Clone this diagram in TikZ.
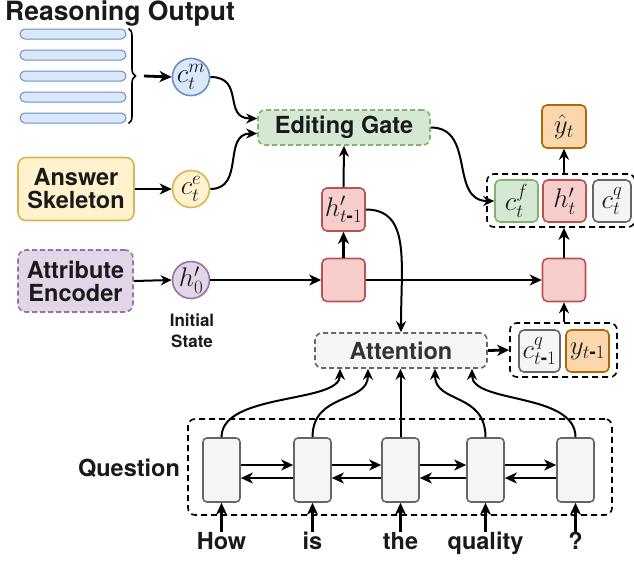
\RequirePackage{fix-cm}
\documentclass[tikz,border=0pt]{standalone}
\usepackage{amsmath}
\usepackage{fontspec}
\newfontfamily\hv{TeX Gyre Heros}
\newcommand{\tminus}{\text{\hv\bfseries -}}
\usetikzlibrary{arrows.meta,calc,decorations.pathreplacing}
\definecolor{bluF}{HTML}{DAE8FC}\definecolor{bluD}{HTML}{6C8EBF}
\definecolor{yelF}{HTML}{FFF2CC}\definecolor{yelD}{HTML}{D6B656}
\definecolor{grnF}{HTML}{D5E8D4}\definecolor{grnD}{HTML}{82B366}
\definecolor{purF}{HTML}{E1D5E7}\definecolor{purD}{HTML}{9673A6}
\definecolor{redF}{HTML}{F8CECC}\definecolor{redD}{HTML}{B85450}
\definecolor{gryF}{HTML}{F5F5F5}\definecolor{gryD}{HTML}{666666}
\definecolor{orgF}{HTML}{FAD7AC}\definecolor{orgD}{HTML}{B46504}
\definecolor{txt}{HTML}{1A1A1A}
\tikzset{
  lbl/.style={font=\hv\bfseries\fontsize{23.5}{25}\selectfont, text=txt, align=center, inner sep=0pt},
  mth/.style={font=\fontsize{27}{29}\selectfont, text=txt},
  bx/.style={rounded corners=5pt, line width=1.6pt, inner sep=0pt, mth},
  circ/.style={circle, line width=1.6pt, minimum size=37pt, inner sep=0pt, mth},
  redbox/.style={bx, draw=redD, fill=redF, minimum width=43pt, minimum height=43pt},
  grpbox/.style={draw=black, dashed, dash pattern=on 6pt off 4pt, line width=1.6pt, rounded corners=7pt, inner sep=0pt},
  cell/.style={draw=gryD, fill=gryF, line width=1.6pt, rounded corners=4pt, minimum width=37pt, minimum height=64pt, inner sep=0pt},
  bar/.style={draw=bluD, fill=bluF, line width=1pt, rounded corners=5pt, minimum width=106pt, minimum height=10pt, inner sep=0pt},
  thk/.style={line width=2.8pt, -{Stealth[length=12pt,width=11pt,inset=3.5pt]}},
  thn/.style={line width=2pt, -{Stealth[length=11pt,width=10pt,inset=3.5pt]}},
}
\begin{document}
\begin{tikzpicture}[x=1pt,y=-1pt]
\useasboundingbox (0,0) rectangle (634,560);
% Reasoning output
\node[lbl, font=\hv\bfseries\fontsize{26.5}{28}\selectfont] (ro) at (120,14) {Reasoning Output};
\foreach \i/\y in {1/34,2/55,3/76,4/97,5/118} {
  \node[bar] (bar\i) at (73,\y) {};
}
\draw[line width=1.6pt, decorate, decoration={brace, amplitude=7pt}] ($(bar1.north east)+(2,0)$) -- ($(bar5.south east)+(2,0)$);
\coordinate (brtip) at (144,76);
\node[circ, draw=bluD, fill=bluF] (cm) at (191,77) {$c_t^m$};
\draw[thk] (brtip) -- (cm.west);
% Answer Skeleton
\node[lbl, draw=yelD, fill=yelF, line width=1.6pt, rounded corners=8pt, minimum width=116pt, minimum height=63pt] (ans) at (76,189) {Answer\\[-2pt]Skeleton};
\node[circ, draw=yelD, fill=yelF] (ce) at (191,189) {$c_t^e$};
\draw[thk] (ans.east) -- (ce.west);
% Attribute encoder
\node[lbl, draw=purD, fill=purF, line width=1.6pt, dashed, dash pattern=on 5pt off 3pt, rounded corners=8pt, minimum width=115pt, minimum height=62pt] (attr) at (75.5,281) {Attribute\\[-2pt]Encoder};
\node[circ, draw=purD, fill=purF] (h0) at (191,280) {$h_0^{\prime}$};
\node[lbl, font=\hv\bfseries\fontsize{17}{21}\selectfont] (init) at (192,331) {Initial\\State};
\draw[thn] (attr.east) -- (h0.west);
% Editing gate
\node[lbl, draw=grnD, fill=grnF, line width=1.6pt, dashed, dash pattern=on 5pt off 3pt, rounded corners=7pt, minimum width=172pt, minimum height=35pt] (eg) at (344,127.5) {Editing Gate};
\draw[thn] (cm.east) .. controls +(35,0) and +(-35,0) .. ($(eg.west)+(0,-9)$);
\draw[thn] (ce.east) .. controls +(35,0) and +(-35,0) .. ($(eg.west)+(0,6)$);
% red boxes
\node[redbox] (r1) at (343.5,280) {};
\node[redbox] (r2) at (564,280) {};
\node[redbox] (hp) at (343.5,209.5) {$h_{t\tminus1}^{\prime}$};
\draw[thk] (h0.east) -- (r1.west);
\draw[thk] (r1.east) -- (r2.west);
\draw[thk] (r1.north) -- (hp.south);
\draw[thn] (hp.north) -- (eg.south);
% Attention
\node[lbl, text=black!80, draw=gryD, fill=gryF, line width=1.6pt, dashed, dash pattern=on 5pt off 3pt, rounded corners=7pt, minimum width=172pt, minimum height=35pt] (att) at (401,350.5) {Attention};
\draw[thn] (hp.east) .. controls +(45,0) and +(0,-70) .. (att.north);
% group 1
\node[grpbox, minimum width=148pt, minimum height=53pt] (g1) at (561,200.5) {};
\node[bx, draw=grnD, fill=grnF, minimum width=43pt, minimum height=42pt] (cf) at (516.5,201) {$c_t^f$};
\node[redbox, minimum height=42pt] (ht) at (564.5,201) {$h_t^{\prime}$};
\node[bx, draw=gryD, fill=gryF, minimum width=38pt, minimum height=42pt] (cq) at (612,201) {$c_t^q$};
\node[bx, draw=orgD, fill=orgF, minimum width=44pt, minimum height=43pt] (yh) at (564,126.5) {$\hat{y}_t$};
\draw[thn] (eg.east) .. controls +(45,0) and +(-45,0) .. (cf.west);
\draw[thk] (r2.north) -- (g1.south -| r2.north);
\draw[thn] (g1.north -| yh.south) -- (yh.south);
% group 2
\node[grpbox, minimum width=107pt, minimum height=54pt] (g2) at (563.5,350) {};
\node[bx, draw=gryD, fill=gryF, minimum width=41pt, minimum height=42pt] (cq1) at (539.5,351) {$c_{t\tminus1}^q$};
\node[bx, draw=orgD, fill=orgF, minimum width=43pt, minimum height=42pt] (y1) at (587.5,351) {$y_{t\tminus1}$};
\draw[thk] (att.east) -- (g2.west);
\draw[thn] (g2.north -| r2.south) -- (r2.south);
% Question
\node[grpbox, minimum width=424pt, minimum height=96pt] (qg) at (400,467) {};
\node[lbl] (qlab) at (129,468) {Question};
\foreach \i/\x/\w in {1/221.5/How,2/312.5/is,3/400.5/the,4/485.5/quality,5/575.5/?} {
  \node[cell] (q\i) at (\x,470) {};
  \node[lbl, anchor=base] (w\i) at (\x,549) {\w};
  \draw[thk] ($(q\i.south)+(0,29)$) -- (q\i.south);
}
\foreach \i/\j in {1/2,2/3,3/4,4/5} {
  \draw[thk] ($(q\i.east)+(0,-5)$) -- ($(q\j.west)+(0,-5)$);
  \draw[thk] ($(q\j.west)+(0,8)$) -- ($(q\i.east)+(0,8)$);
}
\draw[thn] (q1.north) .. controls +(0,-45) and +(0,35) .. ($(att.south)+(-61,0)$);
\draw[thn] (q2.north) .. controls +(0,-45) and +(0,35) .. ($(att.south)+(-33,0)$);
\draw[thn] (q3.north) -- (q3.north |- att.south);
\draw[thn] (q4.north) .. controls +(0,-45) and +(0,35) .. ($(att.south)+(34,0)$);
\draw[thn] (q5.north) .. controls +(0,-45) and +(0,35) .. ($(att.south)+(71,0)$);
\end{tikzpicture}
\end{document}
